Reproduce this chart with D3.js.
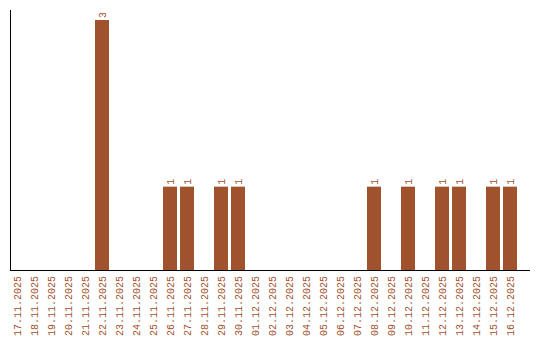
<!DOCTYPE html>
<html>
<head>
<meta charset="utf-8">
<script src="https://cdn.jsdelivr.net/npm/d3@7"></script>
<style>
  body { margin: 0; background: #fff; }
  text { font-family: "Liberation Mono", monospace; font-size: 10px; fill: #a0522d; }
</style>
</head>
<body>
<script>
var dates = ["17.11.2025", "18.11.2025", "19.11.2025", "20.11.2025", "21.11.2025",
    "22.11.2025", "23.11.2025", "24.11.2025", "25.11.2025", "26.11.2025",
    "27.11.2025", "28.11.2025", "29.11.2025", "30.11.2025", "01.12.2025",
    "02.12.2025", "03.12.2025", "04.12.2025", "05.12.2025", "06.12.2025",
    "07.12.2025", "08.12.2025", "09.12.2025", "10.12.2025", "11.12.2025",
    "12.12.2025", "13.12.2025", "14.12.2025", "15.12.2025", "16.12.2025"];
var counts = [0, 0, 0, 0, 0, 3, 0, 0, 0, 1,
    1, 0, 1, 1, 0, 0, 0, 0, 0, 0,
    0, 1, 0, 1, 0, 1, 1, 0, 1, 1];

(function() {
    var w = 540;
    var h = 340;
    var base = 270;
    var color = "#a0522d";

    var svg = d3.select("body").append("svg")
        .attr("width", w)
        .attr("height", h);

    //x: band of 17px, bar 14px
    var x = d3.scaleBand()
        .domain(dates)
        .range([8.5, 518.5])
        .paddingInner(3 / 17)
        .paddingOuter(1.5 / 17);

    var y = d3.scaleLinear()
        .domain([0, d3.max(counts) * 1.04])
        .range([base, 10]);

    var data = dates.map(function(d, i) { return {date: d, n: counts[i]}; });

    //bars
    svg.selectAll("rect.bar")
        .data(data.filter(function(d) { return d.n > 0; }))
        .enter()
        .append("rect")
        .attr("class", "bar")
        .attr("x", function(d) { return x(d.date); })
        .attr("y", function(d) { return y(d.n); })
        .attr("width", x.bandwidth())
        .attr("height", function(d) { return base - y(d.n); })
        .attr("fill", color);

    //value labels
    svg.selectAll("text.val")
        .data(data.filter(function(d) { return d.n > 0; }))
        .enter()
        .append("text")
        .attr("class", "val")
        .attr("transform", function(d) {
            return "translate(" + (x(d.date) + x.bandwidth() / 2) + "," + (y(d.n) - 2) + ") rotate(-90)";
        })
        .attr("dy", "0.35em")
        .text(function(d) { return d.n; });

    //x axis labels
    var xAxis = svg.append("g")
        .attr("transform", "translate(0," + base + ")")
        .call(d3.axisBottom(x).tickSize(0).tickSizeOuter(0));
    xAxis.select(".domain").remove();
    xAxis.selectAll("text")
        .attr("transform", "rotate(-90)")
        .attr("text-anchor", "end")
        .attr("x", -6)
        .attr("y", 0)
        .attr("dy", "0.35em")
        .style("font-family", "Liberation Mono, monospace")
        .style("font-size", "10px")
        .attr("fill", color);

    //axis lines
    svg.append("line")
        .attr("x1", 10.5).attr("x2", 10.5)
        .attr("y1", y.range()[1]).attr("y2", base)
        .attr("stroke", "#000");
    svg.append("line")
        .attr("x1", 10).attr("x2", 530)
        .attr("y1", base + 0.5).attr("y2", base + 0.5)
        .attr("stroke", "#000");
})();
</script>
</body>
</html>
